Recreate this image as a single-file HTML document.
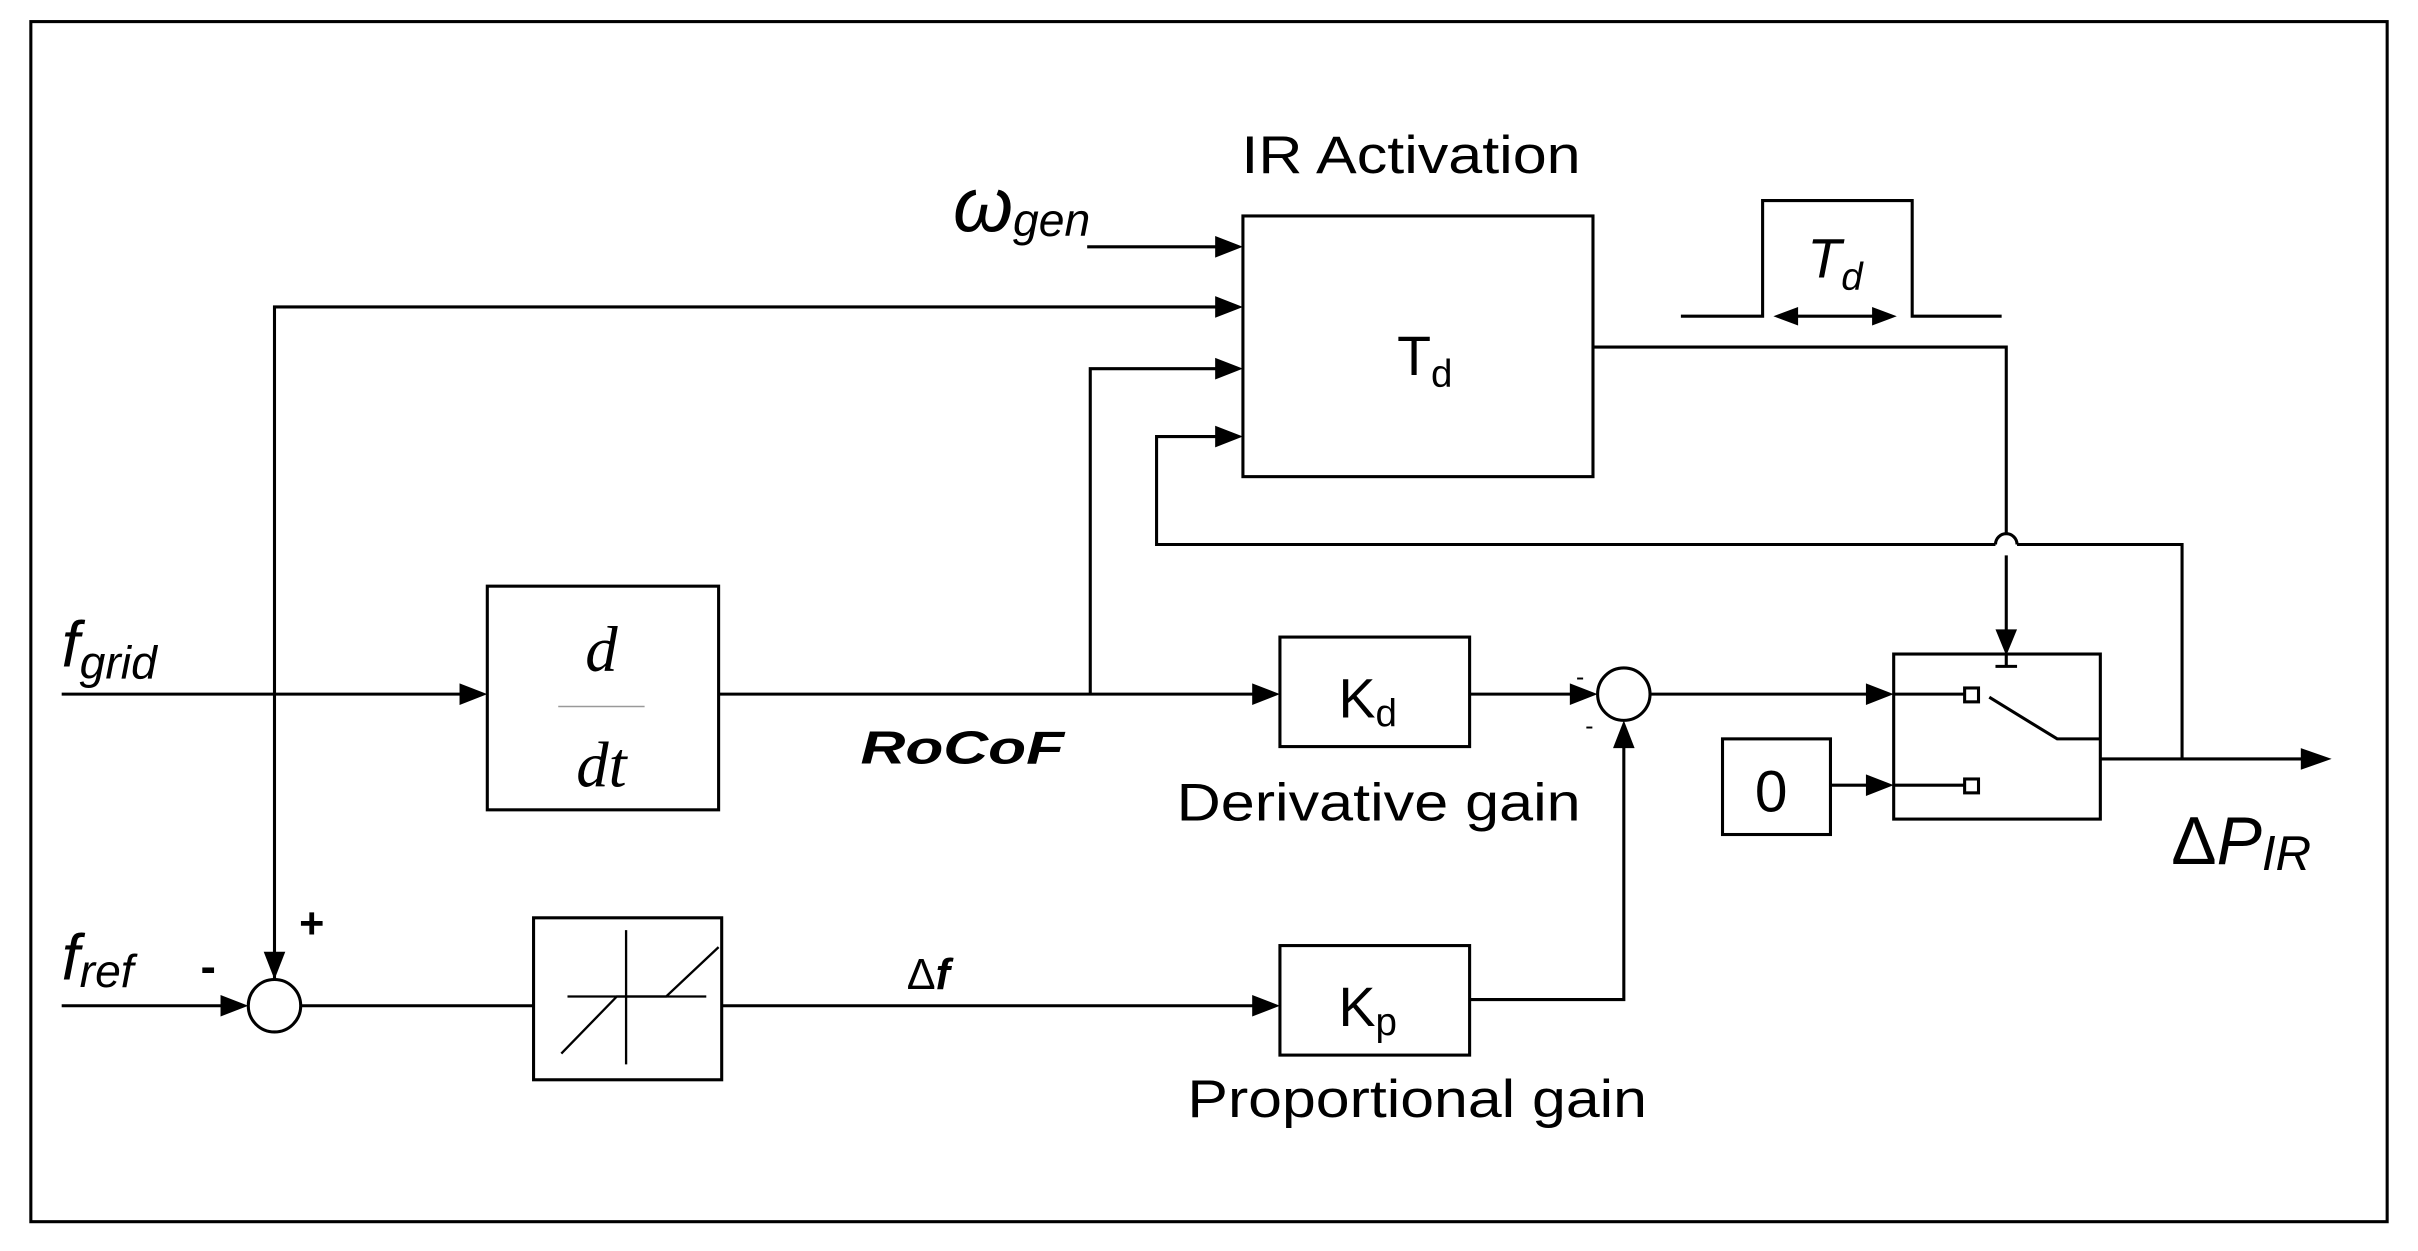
<!DOCTYPE html>
<html><head><meta charset="utf-8"><style>
html,body{margin:0;padding:0;background:#fff;}
svg{display:block;}
text{font-family:"Liberation Sans",sans-serif;fill:#000;}
</style></head><body>
<svg width="2418" height="1251" viewBox="0 0 1568 811" preserveAspectRatio="none" xmlns="http://www.w3.org/2000/svg">
<g fill="none" stroke="#000" stroke-width="2">
<rect x="20" y="14" width="1528" height="778"/>
<rect x="806" y="140" width="227" height="169"/>
<line x1="705" y1="160" x2="790" y2="160"/>
<polyline points="178,635 178,199 790,199"/>
<polyline points="707,450 707,239 790,239"/>
<polyline points="1415,492 1415,353 1308,353"/>
<path d="M1308,353 A7,7 0 0 0 1294,353"/>
<polyline points="1294,353 750,353 750,283 790,283"/>
<polyline points="1033,225 1301,225 1301,346"/>
<line x1="1301" y1="360" x2="1301" y2="410"/>
<line x1="1294" y1="432" x2="1308" y2="432"/>
<line x1="1301" y1="424" x2="1301" y2="432"/>
<polyline points="1090,205 1143,205 1143,130 1240,130 1240,205 1298,205"/>
<line x1="1162" y1="205" x2="1218" y2="205"/>
<line x1="40" y1="450" x2="300" y2="450"/>
<rect x="316" y="380" width="150" height="145"/>
<line x1="466" y1="450" x2="814" y2="450"/>
<rect x="830" y="413" width="123" height="71"/>
<line x1="953" y1="450" x2="1020" y2="450"/>
<circle cx="1053" cy="450" r="17"/>
<line x1="1070" y1="450" x2="1212" y2="450"/>
<rect x="1228" y="424" width="134" height="107"/>
<line x1="1228" y1="450" x2="1274" y2="450"/>
<rect x="1274" y="446" width="9" height="9"/>
<line x1="1228" y1="509" x2="1274" y2="509"/>
<rect x="1274" y="505" width="9" height="9"/>
<polyline points="1290,452 1334,479 1362,479"/>
<line x1="1362" y1="492" x2="1494" y2="492"/>
<rect x="1117" y="479" width="70" height="62"/>
<line x1="1187" y1="509" x2="1212" y2="509"/>
<line x1="40" y1="652" x2="145" y2="652"/>
<circle cx="178" cy="652" r="17"/>
<line x1="195" y1="652" x2="346" y2="652"/>
<rect x="346" y="595" width="122" height="105"/>
<line x1="468" y1="652" x2="814" y2="652"/>
<rect x="830" y="613" width="123" height="71"/>
<polyline points="953,648 1053,648 1053,484"/>
</g>
<g fill="none" stroke="#000" stroke-width="1.5">
<line x1="406" y1="603" x2="406" y2="690"/>
<line x1="368" y1="646" x2="458" y2="646"/>
<polyline points="364,683 400,646 432,646 466,614"/>
</g>
<line x1="362" y1="458" x2="418" y2="458" stroke="#999" stroke-width="1"/>
<g fill="#000">
<polygon points="806,160 788,153 788,167"/>
<polygon points="806,199 788,192 788,206"/>
<polygon points="806,239 788,232 788,246"/>
<polygon points="806,283 788,276 788,290"/>
<polygon points="1301,425 1294,408 1308,408"/>
<polygon points="1150,205 1166,199 1166,211"/>
<polygon points="1230,205 1214,199 1214,211"/>
<polygon points="316,450 298,443 298,457"/>
<polygon points="830,450 812,443 812,457"/>
<polygon points="1036,450 1018,443 1018,457"/>
<polygon points="1228,450 1210,443 1210,457"/>
<polygon points="1228,509 1210,502 1210,516"/>
<polygon points="1512,492 1492,485 1492,499"/>
<polygon points="161,652 143,645 143,659"/>
<polygon points="178,635 171,617 185,617"/>
<polygon points="830,652 812,645 812,659"/>
<polygon points="1053,467 1046,485 1060,485"/>
</g>
<text x="805" y="112" font-size="34" textLength="220" lengthAdjust="spacingAndGlyphs">IR Activation</text>
<text x="906" y="243" font-size="36">T<tspan font-size="25" dy="8">d</tspan></text>
<text x="618" y="150" font-size="50" font-style="italic">ω<tspan font-size="30" dy="3">gen</tspan></text>
<text x="1172" y="180" font-size="36" font-style="italic">T<tspan font-size="25" dy="8">d</tspan></text>
<text x="40" y="432" font-size="42" font-style="italic">f<tspan font-size="30" dy="8">grid</tspan></text>
<text x="40" y="635" font-size="42" font-style="italic">f<tspan font-size="30" dy="5">ref</tspan></text>
<text x="130" y="637" font-size="30" font-weight="bold">-</text>
<text x="194" y="608" font-size="28" font-weight="bold">+</text>
<text x="390" y="435" font-size="42" font-style="italic" text-anchor="middle" style="font-family:'Liberation Serif',serif">d</text>
<text x="390" y="510" font-size="42" font-style="italic" text-anchor="middle" style="font-family:'Liberation Serif',serif">dt</text>
<text x="558" y="495" font-size="30" font-style="italic" font-weight="bold" textLength="132" lengthAdjust="spacingAndGlyphs">RoCoF</text>
<text x="868" y="465" font-size="36">K<tspan font-size="25" dy="6">d</tspan></text>
<text x="868" y="665" font-size="36">K<tspan font-size="25" dy="6">p</tspan></text>
<text x="763" y="532" font-size="34" textLength="262" lengthAdjust="spacingAndGlyphs">Derivative gain</text>
<text x="770" y="724" font-size="34" textLength="298" lengthAdjust="spacingAndGlyphs">Proportional gain</text>
<text x="1022" y="444" font-size="16">-</text>
<text x="1028" y="476" font-size="16">-</text>
<text x="1138" y="526" font-size="38">0</text>
<text x="1408" y="560" font-size="44">Δ<tspan font-style="italic">P</tspan><tspan font-style="italic" font-size="32" dy="4">IR</tspan></text>
<text x="588" y="641" font-size="28">Δ<tspan font-weight="bold" font-style="italic">f</tspan></text>
</svg>
</body></html>
